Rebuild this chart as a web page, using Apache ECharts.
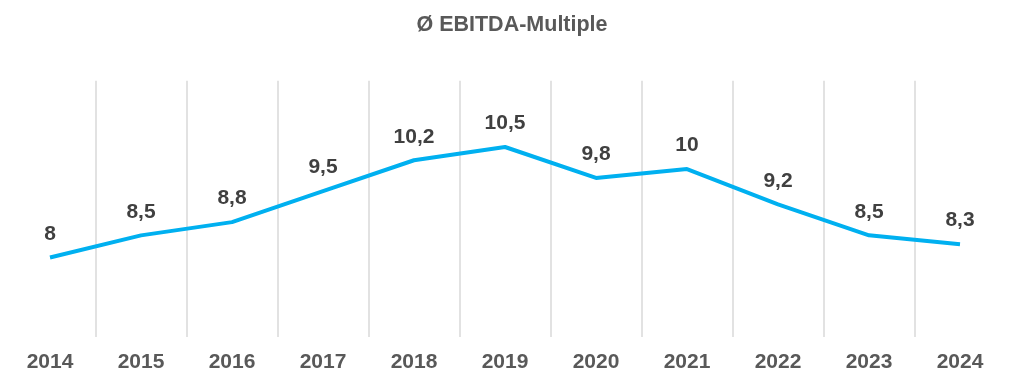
<!DOCTYPE html>
<html>
<head>
<meta charset="utf-8">
<script src="https://cdn.jsdelivr.net/npm/echarts@6/dist/echarts.min.js"></script>
<style>
html,body{margin:0;padding:0;background:#fff;}
#c{width:1024px;height:384px;}
</style>
</head>
<body>
<div id="c"></div>
<script>
const titleText = 'Ø EBITDA-Multiple';
const years = ['2014','2015','2016','2017','2018','2019','2020','2021','2022','2023','2024'];
const multiples = [8, 8.5, 8.8, 9.5, 10.2, 10.5, 9.8, 10, 9.2, 8.5, 8.3];

const chart = echarts.init(document.getElementById('c'));
chart.setOption({
  animation: false,
  backgroundColor: '#ffffff',
  title: {
    text: titleText,
    left: 'center',
    top: 9,
    textStyle: { fontFamily: 'Liberation Sans, Arial, sans-serif', fontSize: 21.5, fontWeight: 'bold', color: '#595959' }
  },
  grid: { left: 4.5, right: 18.5, top: 80.7, bottom: 47 },
  xAxis: {
    type: 'category',
    data: years,
    boundaryGap: true,
    axisLine: { show: false },
    axisTick: { show: false },
    axisLabel: {
      margin: 15,
      fontFamily: 'Liberation Sans, Arial, sans-serif',
      fontSize: 21, fontWeight: 'bold', color: '#595959'
    },
    splitLine: { show: true, showMinLine: false, showMaxLine: false, lineStyle: { color: '#d9d9d9', width: 1.5 } }
  },
  yAxis: {
    type: 'value',
    min: 6.2,
    max: 12,
    show: false,
    splitLine: { show: false }
  },
  series: [{
    type: 'line',
    data: multiples,
    symbol: 'circle',
    symbolSize: 0.01,
    showSymbol: true,
    lineStyle: { color: '#00b0f0', width: 4 },
    itemStyle: { color: '#00b0f0' },
    label: {
      show: true,
      position: 'top',
      distance: 13,
      fontFamily: 'Liberation Sans, Arial, sans-serif',
      fontSize: 21, fontWeight: 'bold', color: '#404040',
      formatter: p => String(p.value).replace('.', ',')
    }
  }]
});
</script>
</body>
</html>
